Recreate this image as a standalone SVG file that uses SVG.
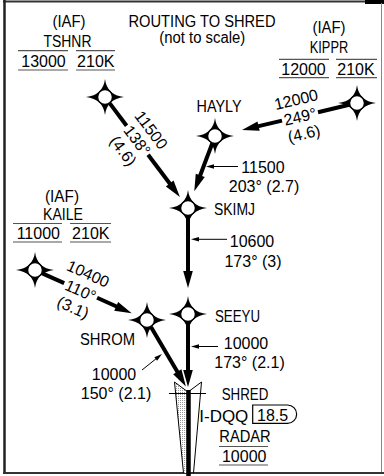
<svg xmlns="http://www.w3.org/2000/svg" xmlns:xlink="http://www.w3.org/1999/xlink" width="384" height="476" viewBox="0 0 384 476">
<style>
.t{font-family:"Liberation Sans",Arial,sans-serif;font-size:16px;fill:#000}
.m{text-anchor:middle}
.trk{stroke:#000;stroke-width:4;fill:none;stroke-linecap:butt}
.ldr{stroke:#000;stroke-width:1;fill:none}
.bar{stroke:#555;stroke-width:1.2;fill:none}
</style>
<defs>
<marker id="ah" markerUnits="userSpaceOnUse" markerWidth="20" markerHeight="12" viewBox="-2 -6 20 12" refX="0" refY="0" orient="auto"><path d="M-1,-4.8 L16,0 L-1,4.8 Z" fill="#000"/></marker>
<marker id="sa" markerUnits="userSpaceOnUse" markerWidth="10" markerHeight="6" viewBox="-2 -3 10 6" refX="0" refY="0" orient="auto"><path d="M-1,-2.2 L7,0 L-1,2.2 Z" fill="#000"/></marker>
<g id="fix">
<path d="M0,-18 Q2,-2 19,0 Q2,2 0,18 Q-2,2 -19,0 Q-2,-2 0,-18 Z" fill="#000"/>
<circle r="7.5" fill="#fff" stroke="#000" stroke-width="1.5"/>
</g>
<pattern id="dots" width="2" height="2" patternUnits="userSpaceOnUse"><rect width="2" height="2" fill="#fff"/><rect width="1" height="1" fill="#999"/></pattern>
</defs>

<g id="frame">
<line x1="3" y1="1.5" x2="384" y2="1.5" stroke="#333" stroke-width="2"/>
<rect x="365" y="0" width="19" height="4" fill="#000"/>
<line x1="4.5" y1="0" x2="4.5" y2="474" stroke="#222" stroke-width="2.5"/>
<line x1="381.5" y1="3" x2="381.5" y2="472" stroke="#888" stroke-width="1"/>
<line x1="3" y1="473" x2="384" y2="473" stroke="#333" stroke-width="2"/>
</g>

<text class="t m" x="202" y="26.5" textLength="147" lengthAdjust="spacingAndGlyphs">ROUTING TO SHRED</text>
<text class="t m" x="202.3" y="43" textLength="86" lengthAdjust="spacingAndGlyphs">(not to scale)</text>

<g id="connectors">
<polygon points="174.5,382 188,392 188,473 183.5,473" fill="url(#dots)"/>
<polyline points="183.5,473 174.5,382 188,392 201.5,382 193.5,473" stroke="#000" stroke-width="1" fill="none"/>
<line x1="188.5" y1="390" x2="188.5" y2="476" stroke="#000" stroke-width="4.5"/>
<line x1="169" y1="393.5" x2="206" y2="393.5" stroke="#000" stroke-width="1"/>

<line class="trk" x1="109.8" y1="103.4" x2="126.6" y2="125.8"/>
<line class="trk" x1="148.1" y1="154.7" x2="170.3" y2="184.3" marker-end="url(#ah)"/>
<line class="trk" x1="349.2" y1="104.8" x2="318" y2="112.2"/>
<line class="trk" x1="282" y1="120.6" x2="257.6" y2="126.4" marker-end="url(#ah)"/>
<line class="trk" x1="212.2" y1="143.5" x2="199.9" y2="176.3" marker-end="url(#ah)"/>
<line class="trk" x1="188" y1="215" x2="188" y2="272" marker-end="url(#ah)"/>
<line class="trk" x1="188" y1="321" x2="188" y2="371" marker-end="url(#ah)"/>
<line class="trk" x1="151" y1="326.9" x2="177.8" y2="372.6" marker-end="url(#ah)"/>
<line class="trk" x1="42.3" y1="273.3" x2="64.2" y2="283.1"/>
<line class="trk" x1="97.1" y1="297.8" x2="117.1" y2="306.8" marker-end="url(#ah)"/>

<line class="ldr" x1="238" y1="166.5" x2="213" y2="166.5" marker-end="url(#sa)"/>
<line class="ldr" x1="227" y1="239.3" x2="198" y2="239.3" marker-end="url(#sa)"/>
<line class="ldr" x1="218" y1="346.5" x2="198" y2="346.5" marker-end="url(#sa)"/>
<line class="ldr" x1="142" y1="370" x2="156.5" y2="358.4" marker-end="url(#sa)"/>
</g>

<g id="leg-labels">
<g transform="translate(137.3,140.3) rotate(53.2)">
<text class="t m" x="0" y="-11.8">11500</text>
<text class="t m" x="0" y="5.7">138°</text>
<text class="t m" x="0" y="23.2">(4.6)</text>
</g>
<g transform="translate(300,116.4) rotate(-13.2)">
<text class="t m" x="0" y="-11.8">12000</text>
<text class="t m" x="0" y="5.7">249°</text>
<text class="t m" x="0" y="23.2">(4.6)</text>
</g>
<g transform="translate(80.7,290.5) rotate(24.1)">
<text class="t m" x="0" y="-12.8">10400</text>
<text class="t m" x="0" y="5.7">110°</text>
<text class="t m" x="0" y="24.2">(3.1)</text>
</g>
<text class="t m" x="263" y="173">11500</text>
<text class="t m" x="264" y="191.5">203° (2.7)</text>
<text class="t m" x="252" y="246.5">10600</text>
<text class="t m" x="253" y="266.5">173° (3)</text>
<text class="t m" x="246" y="349">10000</text>
<text class="t m" x="249.5" y="368">173° (2.1)</text>
<text class="t m" x="114" y="380">10000</text>
<text class="t m" x="116" y="399">150° (2.1)</text>
</g>

<g id="TSHNR">
<use xlink:href="#fix" href="#fix" x="105" y="97"/>
<text class="t m" x="69" y="26.5" textLength="33" lengthAdjust="spacingAndGlyphs">(IAF)</text>
<text class="t m" x="67.5" y="46.5" textLength="48" lengthAdjust="spacingAndGlyphs">TSHNR</text>
<text class="t m" x="43.5" y="66.5">13000</text>
<text class="t m" x="95.8" y="66.5">210K</text>
<path class="bar" d="M18,50.7 H68 M76,50.7 H115 M18,70 H68 M76,70 H115"/>
</g>
<g id="KIPPR">
<use xlink:href="#fix" href="#fix" x="357" y="103"/>
<text class="t m" x="329" y="33" textLength="33" lengthAdjust="spacingAndGlyphs">(IAF)</text>
<text class="t m" x="329" y="53" textLength="38.5" lengthAdjust="spacingAndGlyphs">KIPPR</text>
<text class="t m" x="303.5" y="75">12000</text>
<text class="t m" x="356" y="75">210K</text>
<path class="bar" d="M279,59.3 H329 M336,59.3 H377 M279,77.7 H329 M336,77.7 H377"/>
</g>
<g id="HAYLY">
<use xlink:href="#fix" href="#fix" x="215" y="136"/>
<text class="t m" x="219" y="111.5" textLength="45" lengthAdjust="spacingAndGlyphs">HAYLY</text>
</g>
<g id="SKIMJ">
<use xlink:href="#fix" href="#fix" x="188" y="208"/>
<text class="t" x="214" y="215" textLength="41" lengthAdjust="spacingAndGlyphs">SKIMJ</text>
</g>
<g id="KAILE">
<use xlink:href="#fix" href="#fix" x="35" y="270"/>
<text class="t m" x="62" y="201.5" textLength="34" lengthAdjust="spacingAndGlyphs">(IAF)</text>
<text class="t m" x="63" y="220" textLength="40" lengthAdjust="spacingAndGlyphs">KAILE</text>
<text class="t m" x="38.3" y="238.5">11000</text>
<text class="t m" x="90.8" y="238.5">210K</text>
<path class="bar" d="M13,223.5 H62 M70,223.5 H111 M13,242 H62 M70,242 H111"/>
</g>
<g id="SEEYU">
<use xlink:href="#fix" href="#fix" x="188" y="314"/>
<text class="t" x="215" y="321.5" textLength="45" lengthAdjust="spacingAndGlyphs">SEEYU</text>
</g>
<g id="SHROM">
<use xlink:href="#fix" href="#fix" x="147" y="320"/>
<text class="t" x="80" y="345" textLength="55" lengthAdjust="spacingAndGlyphs">SHROM</text>
</g>
<g id="SHRED">
<text class="t" x="221.7" y="400" textLength="46.6" lengthAdjust="spacingAndGlyphs">SHRED</text>
<text class="t" x="199.3" y="421.5" textLength="49" lengthAdjust="spacingAndGlyphs">I-DQQ</text>
<path d="M252.7,405 H287.5 A9.15,9.15 0 0 1 287.5,423.3 H252.7 Z" fill="none" stroke="#000" stroke-width="1.2"/>
<text class="t" x="257" y="421">18.5</text>
<text class="t m" x="245" y="441.5" textLength="51.4" lengthAdjust="spacingAndGlyphs">RADAR</text>
<text class="t m" x="244.2" y="461.5">10000</text>
<path class="bar" d="M219,446.5 H268 M219,465 H268"/>
</g>
</svg>
